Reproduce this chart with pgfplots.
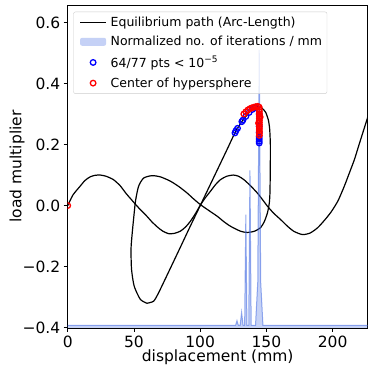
\documentclass[border=0pt]{standalone}
\usepackage{pgfplots}
\pgfplotsset{compat=1.18}
\usepackage{fontspec}
\setmainfont{DejaVu Sans}
\definecolor{royal}{RGB}{65,105,225}
\definecolor{legframe}{RGB}{204,204,204}
\pgfplotsset{
  lineleg/.style={legend image code/.code={\path (0pt,0pt) (31pt,0pt); \draw[##1] (3pt,0pt) -- (29pt,0pt);}},
  patchleg/.style={legend image code/.code={\path (0pt,0pt) (31pt,0pt); \fill[##1] (3pt,-4pt) rectangle (29pt,4pt);}},
  markleg/.style={legend image code/.code={\path (0pt,0pt) (31pt,0pt); \draw[mark repeat=2,mark phase=2,##1] plot coordinates {(3pt,0pt) (16pt,0pt) (29pt,0pt)};}},
}

\begin{document}
\begin{tikzpicture}
\begin{axis}[
  scale only axis, width=300pt, height=323pt,
  xmin=0, xmax=226.5, ymin=-0.401, ymax=0.657,
  xtick={0,50,100,150,200}, xticklabels={0,50,100,150,200},
  ytick={-0.4,-0.2,0,0.2,0.4,0.6},
  yticklabels={−0.4,−0.2,0.0,0.2,0.4,0.6},
  tick align=outside, tick pos=left, major tick length=4pt,
  tick style={black, line width=0.8pt},
  axis line style={line width=0.8pt},
  ticklabel style={font=\fontsize{15.5}{18}\selectfont},
  xlabel={displacement (mm)}, ylabel={load multiplier},
  label style={font=\fontsize{15.5}{18}\selectfont},
  xlabel style={at={(axis description cs:0.5,-0.09)}, anchor=center},
  ylabel style={at={(axis description cs:-0.169,0.5)}, anchor=center},
  clip marker paths=true,
  legend cell align=left,
  legend style={at={(0,1)}, anchor=north west, xshift=5.6pt, yshift=-6.7pt,
    draw=legframe, rounded corners=2pt, fill=white, fill opacity=0.8,
    text opacity=1, draw opacity=1, inner ysep=3pt,
    font=\fontsize{12.5}{15}\selectfont, row sep=4.4pt},
]
% main path
\addplot[black, line width=1.2pt, smooth, tension=0.4, lineleg] coordinates {
  (0,0) (4,0.035) (9.3,0.063) (13,0.082) (16.9,0.094) (20.5,0.099) (24.5,0.1)
  (29,0.096) (34.5,0.085) (39.6,0.065) (44,0.04) (48,0.02) (51,0.005)
  (55,-0.014) (59.8,-0.035) (63.5,-0.053) (67.4,-0.069) (71.5,-0.083)
  (76.2,-0.092) (80.5,-0.091) (85,-0.084) (89,-0.07) (92.7,-0.051)
  (96.5,-0.026) (100.2,0.002) (104,0.026) (107.8,0.047) (111.5,0.068)
  (115.4,0.085) (120,0.096) (125,0.1) (129,0.096) (133,0.085) (138,0.065)
  (143.2,0.041) (147,0.02) (150.8,-0.002) (155.5,-0.025) (160.8,-0.046)
  (166,-0.068) (171,-0.085) (177.3,-0.095) (183,-0.09) (188.6,-0.073)
  (193.5,-0.05) (198.7,-0.022) (204,0.015) (208.8,0.063) (212.5,0.105)
  (216.4,0.15) (220,0.2) (224,0.255) (228,0.31)
};
\addlegendentry{Equilibrium path (Arc-Length)}
% closed loop
\addplot[black, line width=1.2pt, smooth, tension=0.4, forget plot] coordinates {
  (59.8,-0.32) (64.9,-0.313) (68.7,-0.285) (77,-0.21) (85,-0.137)
  (92.5,-0.068) (100.5,0.004) (108,0.072) (115.5,0.14) (121,0.19)
  (126.8,0.243) (131.8,0.277) (136.6,0.303) (140,0.318) (143,0.324)
  (146.5,0.32) (149.5,0.305) (151.5,0.28) (152.5,0.25) (153,0.2)
  (153,0.15) (152.9,0.1) (152.7,0.042) (152.2,0.008) (150.8,-0.024)
  (148.5,-0.052) (145.7,-0.072) (141,-0.084) (135.6,-0.088) (130.5,-0.084)
  (123,-0.068) (118,-0.053) (112.9,-0.035) (106.5,-0.016) (100.2,0.003)
  (95,0.022) (90.2,0.041) (84,0.062) (77.5,0.08) (70,0.094) (63.6,0.098)
  (57.3,0.09) (53.5,0.063) (51.2,0.015) (49.7,-0.046) (48.5,-0.1)
  (47.8,-0.144) (48.2,-0.209) (50.2,-0.264) (54.8,-0.307) (59.8,-0.32)
};
% iterations histogram
\addplot[draw=none, fill=royal, fill opacity=0.3, patchleg] coordinates {
  (0,-0.401) (0,-0.392) (126.8,-0.392) (127.8,-0.377) (128.8,-0.392)
  (130.2,-0.392) (131.3,-0.35) (132.4,-0.392) (133.6,-0.392) (134.5,-0.03)
  (135.3,-0.392) (136.7,-0.392) (137.6,0.115) (138.5,-0.392) (141.8,-0.392)
  (143.5,-0.25) (144.6,0.51) (145.7,-0.25) (147.4,-0.392) (230,-0.392)
  (230,-0.401)
};
\addlegendentry{Normalized no. of iterations / mm}
\addplot[royal, opacity=0.55, line width=1pt, forget plot] coordinates {
  (0,-0.392) (126.8,-0.392) (127.8,-0.377) (128.8,-0.392)
  (130.2,-0.392) (131.3,-0.35) (132.4,-0.392) (133.6,-0.392) (134.5,-0.03)
  (135.3,-0.392) (136.7,-0.392) (137.6,0.115) (138.5,-0.392) (141.8,-0.392)
  (143.5,-0.25) (144.6,0.51) (145.7,-0.25) (147.4,-0.392) (230,-0.392)
};
% converged points
\addplot[only marks, blue, mark=o, mark size=2.8pt, mark options={line width=1.3pt}, markleg] coordinates {
  (126.3,0.238) (127,0.245) (128.2,0.253) (131.5,0.275) (132.3,0.28)
  (134.5,0.292) (137,0.305) (139.5,0.315) (142,0.321)
  (144.6,0.30) (144.6,0.26) (144.6,0.24) (144.6,0.225) (144.6,0.218)
  (144.6,0.211) (144.6,0.205)
};
\addlegendentry{64/77 pts < 10\raisebox{0.8ex}{\fontsize{9}{9}\selectfont −5}}
% hypersphere centres
\addplot[only marks, red, mark=o, mark size=2.8pt, mark options={line width=1.3pt}, markleg] coordinates {
  (0,0) (133,0.300) (134.5,0.307) (136,0.313) (137.5,0.317) (139,0.320)
  (140.5,0.322) (142,0.324) (143.5,0.325) (144.6,0.322)
  (144.7,0.314) (144.7,0.307) (144.7,0.300) (144.7,0.293) (144.7,0.286)
  (144.7,0.279) (144.7,0.272) (144.7,0.265) (144.7,0.258) (144.7,0.251)
  (144.7,0.244) (144.7,0.237) (144.7,0.230) (145.3,0.29) (144.1,0.27)
};
\addlegendentry{Center of hypersphere}
\coordinate (bl) at (rel axis cs:0,0);
\end{axis}
\pgfresetboundingbox
\path[use as bounding box] (bl) ++(-67.7pt,-46pt) rectangle ++(374pt,374pt);
\end{tikzpicture}
\end{document}
